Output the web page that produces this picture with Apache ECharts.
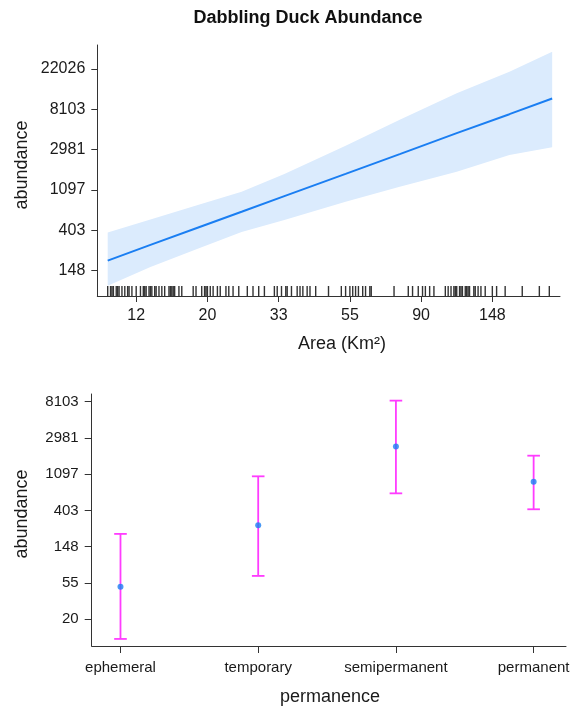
<!DOCTYPE html>
<html>
<head>
<meta charset="utf-8">
<title>Dabbling Duck Abundance</title>
<script src="https://cdn.jsdelivr.net/npm/echarts@6.0.0/dist/echarts.min.js"></script>
<style>
html, body { margin: 0; padding: 0; background: #fff; }
#chart { width: 581px; height: 711px; }
</style>
</head>
<body>
<div id="chart"></div>
<script>
// values are on the log (link) scale, labels show exp(value)
var areaLn  = [2.30, 2.60, 2.95, 3.24, 3.54, 3.97, 4.35, 4.75, 5.12, 5.42];
var fitLn   = [5.25, 5.64, 6.09, 6.46, 6.85, 7.40, 7.89, 8.41, 8.88, 9.27];
var upperLn = [5.95, 6.27, 6.65, 6.96, 7.40, 8.10, 8.74, 9.40, 9.93, 10.43];
var lowerLn = [4.63, 5.09, 5.57, 5.96, 6.26, 6.71, 7.08, 7.45, 7.87, 8.06];

// observed areas (rug)
var rugLn = [2.30, 2.32, 2.33, 2.34, 2.36, 2.37, 2.38, 2.40, 2.42, 2.44, 2.45, 2.47, 2.50,
  2.53, 2.55, 2.56, 2.57, 2.59, 2.60, 2.61, 2.63, 2.64, 2.66, 2.68, 2.70, 2.73, 2.74, 2.75,
  2.76, 2.77, 2.80, 2.82, 2.90, 2.92, 2.96, 2.98, 2.99, 3.00, 3.02, 3.04, 3.07, 3.09, 3.13,
  3.15, 3.18, 3.22, 3.28, 3.32, 3.36, 3.40, 3.47, 3.49, 3.52, 3.55, 3.56, 3.59, 3.63, 3.65,
  3.67, 3.70, 3.72, 3.76, 3.85, 3.94, 3.97, 4.00, 4.02, 4.04, 4.06, 4.09, 4.11, 4.14, 4.15,
  4.31, 4.41, 4.44, 4.48, 4.51, 4.53, 4.56, 4.59, 4.67, 4.69, 4.71, 4.73, 4.74, 4.75, 4.77,
  4.78, 4.79, 4.81, 4.82, 4.83, 4.84, 4.87, 4.88, 4.90, 4.92, 4.95, 5.00, 5.03, 5.09, 5.21,
  5.33, 5.40];

var areaTicks = [2.5, 3, 3.5, 4, 4.5, 5];
var topTicks = [5, 6, 7, 8, 9, 10];

var permanence = ['ephemeral', 'temporary', 'semipermanent', 'permanent'];
var permFit  = [3.89, 5.59, 7.76, 6.79];
var permLow  = [2.45, 4.19, 6.47, 6.03];
var permHigh = [5.35, 6.94, 9.03, 7.51];
var bottomTicks = [3, 4, 5, 6, 7, 8, 9];

var FONT = '"Liberation Sans", Arial, sans-serif';
var AXIS = '#333';
var TXT = '#1a1a1a';

function expLabel(v) { return String(Math.round(Math.exp(v))); }

function axisBase(ticks, fmt, size, tickLen, margin) {
    return {
        axisLine: { show: true, onZero: false, lineStyle: { color: AXIS, width: 1 } },
        axisTick: { show: true, length: tickLen, customValues: ticks, lineStyle: { color: AXIS, width: 1 } },
        axisLabel: { customValues: ticks, formatter: fmt, fontSize: size, color: TXT, fontFamily: FONT, margin: margin },
        splitLine: { show: false }
    };
}

var myChart = echarts.init(document.getElementById('chart'));

var yMinTop = 4.373;

var option = {
    animation: false,
    backgroundColor: '#fff',
    grid: [
        { left: 97.3, top: 45, width: 462.7, height: 251, outerBoundsMode: 'none' },
        { left: 91.7, top: 394, width: 474.3, height: 252, outerBoundsMode: 'none' }
    ],
    xAxis: [
        Object.assign({ gridIndex: 0, type: 'value', min: 2.227, max: 5.475 },
            axisBase(areaTicks, expLabel, 16, 6, 12)),
        Object.assign({ gridIndex: 1, type: 'value', min: -0.209, max: 3.235 },
            axisBase([0, 1, 2, 3], function (v) { return permanence[Math.round(v)]; }, 15, 7, 14))
    ],
    yAxis: [
        Object.assign({ gridIndex: 0, type: 'value', min: yMinTop, max: 10.595 },
            axisBase(topTicks, expLabel, 16, 6, 12)),
        Object.assign({ gridIndex: 1, type: 'value', min: 2.255, max: 9.213 },
            axisBase(bottomTicks, expLabel, 15, 7, 13))
    ],
    graphic: [
        { type: 'text', x: 308, y: 18,
          style: { text: 'Dabbling Duck Abundance', font: 'bold 18px ' + FONT, fill: '#111',
                   textAlign: 'center', textVerticalAlign: 'middle', align: 'center', verticalAlign: 'middle' } },
        { type: 'text', x: 22, y: 165, rotation: Math.PI / 2,
          style: { text: 'abundance', font: '18px ' + FONT, fill: TXT,
                   textAlign: 'center', textVerticalAlign: 'middle', align: 'center', verticalAlign: 'middle' } },
        { type: 'text', x: 342, y: 344,
          style: { text: 'Area (Km\u00b2)', font: '18px ' + FONT, fill: TXT,
                   textAlign: 'center', textVerticalAlign: 'middle', align: 'center', verticalAlign: 'middle' } },
        { type: 'text', x: 22, y: 514, rotation: Math.PI / 2,
          style: { text: 'abundance', font: '18px ' + FONT, fill: TXT,
                   textAlign: 'center', textVerticalAlign: 'middle', align: 'center', verticalAlign: 'middle' } },
        { type: 'text', x: 330, y: 697,
          style: { text: 'permanence', font: '18px ' + FONT, fill: TXT,
                   textAlign: 'center', textVerticalAlign: 'middle', align: 'center', verticalAlign: 'middle' } }
    ],
    series: [
        {
            // confidence band
            type: 'custom',
            xAxisIndex: 0, yAxisIndex: 0,
            silent: true, z: 1,
            data: areaLn.map(function (x, i) { return [x, lowerLn[i], upperLn[i]]; }),
            encode: { x: 0, y: [1, 2] },
            renderItem: function (params, api) {
                if (params.dataIndex !== 0) return null;
                var pts = [];
                for (var i = 0; i < areaLn.length; i++) pts.push(api.coord([areaLn[i], upperLn[i]]));
                for (var j = areaLn.length - 1; j >= 0; j--) pts.push(api.coord([areaLn[j], lowerLn[j]]));
                return { type: 'polygon', shape: { points: pts }, style: { fill: '#dbebfd' } };
            }
        },
        {
            type: 'line',
            xAxisIndex: 0, yAxisIndex: 0,
            data: areaLn.map(function (x, i) { return [x, fitLn[i]]; }),
            showSymbol: false, symbol: 'none', z: 3,
            lineStyle: { color: '#1a7ef2', width: 2 }
        },
        {
            // rug of observed areas
            type: 'scatter',
            xAxisIndex: 0, yAxisIndex: 0,
            data: rugLn.map(function (x) { return [x, yMinTop]; }),
            symbol: 'rect', symbolSize: [1.4, 10], symbolOffset: [0, -5],
            itemStyle: { color: '#000' }, silent: true, z: 4
        },
        {
            // error bars
            type: 'custom',
            xAxisIndex: 1, yAxisIndex: 1,
            silent: true, z: 2,
            data: permanence.map(function (c, i) { return [i, permLow[i], permHigh[i]]; }),
            encode: { x: 0, y: [1, 2] },
            renderItem: function (params, api) {
                var x = api.value(0);
                var lo = api.coord([x, api.value(1)]);
                var hi = api.coord([x, api.value(2)]);
                var w = 6.3;
                var st = { stroke: '#ff3cff', lineWidth: 1.8 };
                return {
                    type: 'group',
                    children: [
                        { type: 'line', shape: { x1: lo[0], y1: lo[1], x2: hi[0], y2: hi[1] }, style: st },
                        { type: 'line', shape: { x1: lo[0] - w, y1: lo[1], x2: lo[0] + w, y2: lo[1] }, style: st },
                        { type: 'line', shape: { x1: hi[0] - w, y1: hi[1], x2: hi[0] + w, y2: hi[1] }, style: st }
                    ]
                };
            }
        },
        {
            type: 'scatter',
            xAxisIndex: 1, yAxisIndex: 1,
            data: permanence.map(function (c, i) { return [i, permFit[i]]; }),
            symbol: 'circle', symbolSize: 6, z: 5,
            itemStyle: { color: '#1a7ef2' }
        }
    ]
};

myChart.setOption(option);
</script>
</body>
</html>
